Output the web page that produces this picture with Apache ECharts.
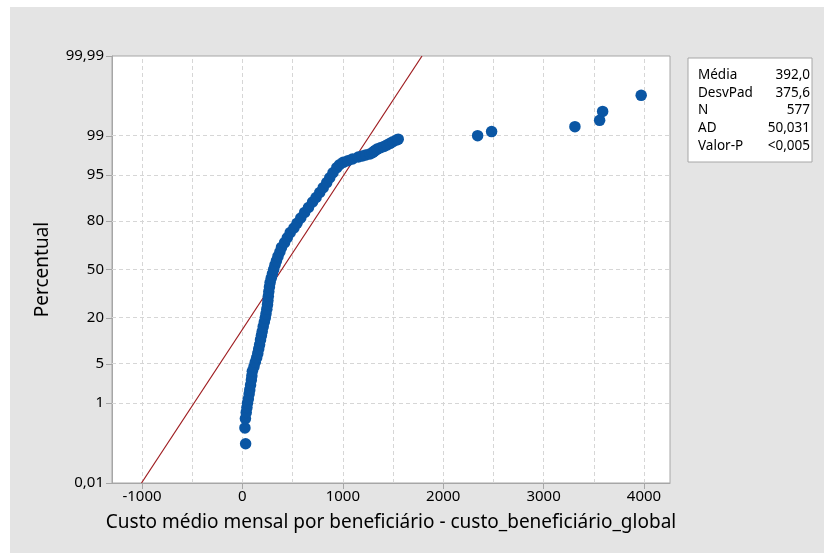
<!DOCTYPE html>
<html>
<head>
<meta charset="utf-8">
<script src="https://cdn.jsdelivr.net/npm/echarts@6/dist/echarts.min.js"></script>
<style>
  html, body { margin: 0; padding: 0; background: #fff; }
  #chart {
    width: 824px; height: 553px;
    background: linear-gradient(#e4e4e4, #e4e4e4) no-repeat 10px 7px / 814px 546px, #fff;
  }
</style>
</head>
<body>
<div id="chart"></div>
<script>
// percentuais (eixo de probabilidade) e custos
var percentuais = [0.12, 0.29, 0.47, 0.64, 0.81, 1.0, 1.2, 1.5, 1.8, 2.2, 2.7, 3.2, 3.8, 4.5, 5.3, 6.2, 7.2, 8.3, 9.5,
  11, 12.5, 14, 16, 18, 20, 22, 24.5, 27, 29.5, 32, 35, 38, 41, 44, 47, 50, 53, 56, 59, 62, 65, 68, 71, 74, 76.5,
  79, 81.5, 84, 86, 88, 89.5, 91, 92.3, 93.5, 94.5, 95.4, 96.2, 96.6, 96.9, 97.1, 97.3, 97.5, 97.6, 97.7, 97.8,
  97.9, 98.0, 98.1, 98.2, 98.3, 98.4, 98.5, 98.6, 98.7, 98.8, 98.84,
  99.013, 99.186, 99.359, 99.532, 99.706, 99.879];
var custos = [32, 25, 30, 38, 45, 51, 59, 67, 73, 81, 89, 94, 99, 115, 128, 142, 153, 162, 171,
  180, 189, 197, 207, 218, 228, 235, 243, 250, 254, 258, 263, 269, 276, 287, 299, 311, 324, 339, 354, 373, 389,
  420, 447, 476, 513, 544, 581, 620, 658, 699, 734, 770, 805, 840, 870, 902, 940, 967, 1004, 1051, 1097, 1154,
  1194, 1229, 1270, 1295, 1309, 1323, 1342, 1375, 1410, 1441, 1471, 1499, 1537, 1552,
  2343, 2482, 3312, 3558, 3588, 3972];

var yTickPercent = [0.01, 1, 5, 20, 50, 80, 95, 99, 99.99];
var yTickLabels = ['0,01', '1', '5', '20', '50', '80', '95', '99', '99,99'];
var xTicks = [-1000, 0, 1000, 2000, 3000, 4000];
var xGrid = [-1000, -500, 0, 500, 1000, 1500, 2000, 2500, 3000, 3500, 4000];

var estatLabels = ['Média', 'DesvPad', 'N', 'AD', 'Valor-P'];
var estatValores = ['392,0', '375,6', '577', '50,031', '<0,005'];
var media = 392.0, desvPad = 375.6;

// inversa da normal padrão (escala de probabilidade)
function probit(p) {
  var a = [-39.69683028665376, 220.9460984245205, -275.9285104469687, 138.3577518672690, -30.66479806614716, 2.506628277459239];
  var b = [-54.47609879822406, 161.5858368580409, -155.6989798598866, 66.80131188771972, -13.28068155288572];
  var c = [-0.007784894002430293, -0.3223964580411365, -2.400758277161838, -2.549732539343734, 4.374664141464968, 2.938163982698783];
  var d = [0.007784695709041462, 0.3224671290700398, 2.445134137142996, 3.754408661907416];
  var pl = 0.02425, q, r;
  if (p < pl) {
    q = Math.sqrt(-2 * Math.log(p));
    return (((((c[0]*q+c[1])*q+c[2])*q+c[3])*q+c[4])*q+c[5]) / ((((d[0]*q+d[1])*q+d[2])*q+d[3])*q+1);
  }
  if (p <= 1 - pl) {
    q = p - 0.5; r = q * q;
    return (((((a[0]*r+a[1])*r+a[2])*r+a[3])*r+a[4])*r+a[5])*q / (((((b[0]*r+b[1])*r+b[2])*r+b[3])*r+b[4])*r+1);
  }
  q = Math.sqrt(-2 * Math.log(1 - p));
  return -(((((c[0]*q+c[1])*q+c[2])*q+c[3])*q+c[4])*q+c[5]) / ((((d[0]*q+d[1])*q+d[2])*q+d[3])*q+1);
}

var yTickZ = yTickPercent.map(function (p) { return probit(p / 100); });
var zMin = yTickZ[0], zMax = yTickZ[yTickZ.length - 1];

var pontos = custos.map(function (c, i) { return [c, probit(percentuais[i] / 100)]; });
var linhaAjuste = [[media + desvPad * zMin, zMin], [media + desvPad * zMax, zMax]];

var gridLines = [];
yTickZ.slice(1, -1).forEach(function (z) { gridLines.push({ yAxis: z }); });
xGrid.forEach(function (x) { gridLines.push({ xAxis: x }); });

var fonte = '"Noto Sans", "Open Sans", sans-serif';
var cinza = '#a6a6a6';

var graficos = [{
  type: 'rect',
  shape: { x: 688, y: 58, width: 124, height: 104 },
  style: { fill: '#fff', stroke: cinza, lineWidth: 1 }
}];
estatLabels.forEach(function (lbl, i) {
  var y = 75 + i * 17.7;
  graficos.push({ type: 'text', x: 698, y: y, style: { text: lbl, font: '13.5px ' + fonte, fill: '#000', verticalAlign: 'middle', align: 'left' } });
  graficos.push({ type: 'text', x: 810, y: y, style: { text: estatValores[i], font: '13.5px ' + fonte, fill: '#000', verticalAlign: 'middle', align: 'right' } });
});

var chart = echarts.init(document.getElementById('chart'));
chart.setOption({
  animation: false,
  backgroundColor: 'transparent',
  textStyle: { fontFamily: fonte },
  grid: {
    left: 112, top: 56, right: 154, bottom: 70,
    show: true, backgroundColor: '#fff', borderColor: cinza, borderWidth: 1
  },
  xAxis: {
    type: 'value', min: -1299, max: 4259,
    name: 'Custo médio mensal por beneficiário - custo_beneficiário_global',
    nameLocation: 'middle', nameGap: 30,
    nameTextStyle: { fontSize: 19, color: '#000' },
    axisLine: { onZero: false, lineStyle: { color: cinza } },
    axisTick: { show: true, length: 6, lineStyle: { color: cinza }, customValues: xTicks },
    axisLabel: {
      fontSize: 15, color: '#000', margin: 6, customValues: xTicks,
      formatter: function (v) { return String(Math.round(v)); }
    },
    splitLine: { show: false }
  },
  yAxis: {
    type: 'value', min: zMin, max: zMax,
    name: 'Percentual', nameLocation: 'middle', nameGap: 60,
    nameTextStyle: { fontSize: 19, color: '#000' },
    axisLine: { show: true, onZero: false, lineStyle: { color: cinza } },
    axisTick: { show: true, length: 6, lineStyle: { color: cinza }, customValues: yTickZ },
    axisLabel: {
      fontSize: 15, color: '#000', margin: 8, customValues: yTickZ,
      formatter: function (v) {
        var best = 0;
        yTickZ.forEach(function (z, i) { if (Math.abs(z - v) < Math.abs(yTickZ[best] - v)) best = i; });
        return yTickLabels[best];
      }
    },
    splitLine: { show: false }
  },
  graphic: graficos,
  series: [
    {
      name: 'grade', type: 'line', data: [], z: 1, silent: true,
      markLine: {
        silent: true, z: 1, symbol: ['none', 'none'], label: { show: false },
        lineStyle: { color: '#d6d6d6', type: [4, 3], width: 1 },
        data: gridLines
      }
    },
    {
      name: 'Ajuste', type: 'line', data: linhaAjuste, z: 5,
      showSymbol: false, lineStyle: { color: '#9e1b1f', width: 1.2 }
    },
    {
      name: 'Custo', type: 'scatter', data: pontos, z: 10,
      symbolSize: 11.5, itemStyle: { color: '#0a56a4', opacity: 1 }
    }
  ]
});
</script>
</body>
</html>
